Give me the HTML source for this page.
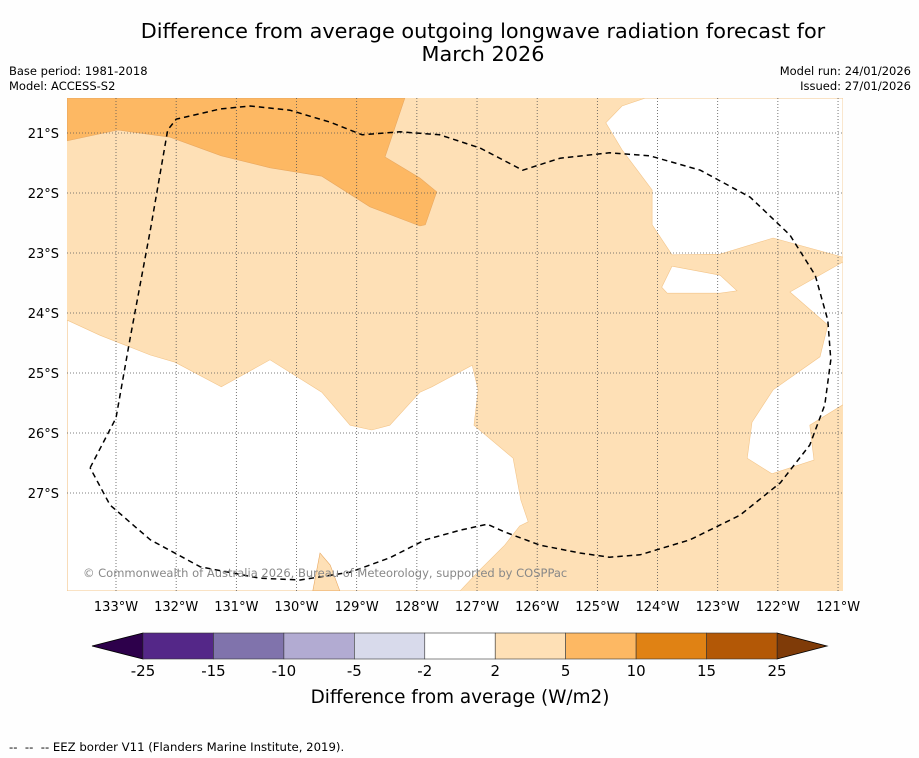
<!DOCTYPE html>
<html><head><meta charset="utf-8"><style>
body{margin:0;background:#fff;font-family:"DejaVu Sans","Liberation Sans",sans-serif;}
svg{display:block}
</style></head><body>
<svg id="c" width="919" height="758">
<rect width="919" height="758" fill="#fefefe"/>
<text x="483" y="38" font-size="20.8" text-anchor="middle">Difference from average outgoing longwave radiation forecast for</text>
<text x="483" y="61" font-size="20.8" text-anchor="middle">March 2026</text>
<text x="9" y="75" font-size="11.5">Base period: 1981-2018</text>
<text x="9" y="90" font-size="11.5">Model: ACCESS-S2</text>
<text x="911" y="75" font-size="11.5" text-anchor="end">Model run: 24/01/2026</text>
<text x="911" y="90" font-size="11.5" text-anchor="end">Issued: 27/01/2026</text>
<defs><clipPath id="mc"><rect x="67" y="98" width="776" height="493"/></clipPath></defs>
<g id="map" clip-path="url(#mc)"></g>
<g id="axes"></g>
<g id="cbar"></g>
<text x="9" y="751" font-size="11.7">--&#160;&#160;--&#160;&#160;-- EEZ border V11 (Flanders Marine Institute, 2019).</text>
</svg>
<script>
const lonTicks=[-133,-132,-131,-130,-129,-128,-127,-126,-125,-124,-123,-122,-121];
const latTicks=[-21,-22,-23,-24,-25,-26,-27];
const darkOrange=[[-133.81,-20.42],[-128.2,-20.42],[-128.53,-21.4],[-127.95,-21.75],[-127.67,-21.98],[-127.86,-22.53],[-127.95,-22.55],[-128.78,-22.23],[-129.58,-21.72],[-130.44,-21.58],[-131.25,-21.38],[-132.1,-21.07],[-132.97,-20.95],[-133.81,-21.13]];
const whiteSW=[[-133.81,-24.12],[-133.27,-24.37],[-132.43,-24.7],[-132.02,-24.82],[-131.25,-25.23],[-130.44,-24.78],[-129.58,-25.32],[-129.11,-25.87],[-128.75,-25.95],[-128.45,-25.87],[-127.95,-25.32],[-127.75,-25.23],[-127.08,-24.87],[-126.98,-25.28],[-127.05,-25.87],[-126.4,-26.42],[-126.27,-27.12],[-126.15,-27.48],[-126.29,-27.55],[-126.54,-27.87],[-126.95,-28.28],[-127.28,-28.63],[-133.81,-28.63]];
const spike=[[-129.73,-28.63],[-129.61,-28.0],[-129.44,-28.2],[-129.28,-28.63]];
const whiteNE=[[-124.21,-20.42],[-124.59,-20.55],[-124.86,-20.83],[-124.59,-21.28],[-124.09,-21.95],[-124.09,-22.53],[-123.76,-23.03],[-122.96,-23.02],[-122.08,-22.75],[-120.92,-23.07],[-120.92,-20.42]];
const whiteE=[[-120.92,-23.15],[-121.8,-23.65],[-121.17,-24.2],[-121.3,-24.73],[-122.08,-25.28],[-122.43,-25.82],[-122.51,-26.42],[-122.1,-26.68],[-121.4,-26.45],[-121.47,-25.87],[-120.92,-25.53]];
const island=[[-123.76,-23.22],[-122.96,-23.37],[-122.68,-23.63],[-122.96,-23.67],[-123.84,-23.67],[-123.93,-23.57]];
const eez=[[-133.43,-26.58],[-133,-25.75],[-132.77,-24.45],[-132.43,-22.62],[-132.14,-20.95],[-132.0,-20.77],[-131.27,-20.6],[-130.77,-20.55],[-130.11,-20.62],[-129.44,-20.82],[-128.91,-21.03],[-128.28,-20.98],[-127.62,-21.03],[-126.95,-21.25],[-126.24,-21.62],[-125.62,-21.42],[-124.8,-21.33],[-124.13,-21.38],[-123.29,-21.62],[-122.46,-22.07],[-121.8,-22.7],[-121.38,-23.37],[-121.17,-24.12],[-121.12,-24.78],[-121.22,-25.53],[-121.47,-26.2],[-121.96,-26.83],[-122.63,-27.37],[-123.46,-27.78],[-124.29,-28.03],[-124.8,-28.07],[-125.29,-28.0],[-125.95,-27.87],[-126.54,-27.65],[-126.83,-27.52],[-127.28,-27.62],[-127.86,-27.78],[-128.45,-28.08],[-129.11,-28.32],[-129.94,-28.45],[-130.61,-28.42],[-131.6,-28.23],[-132.43,-27.78],[-133.1,-27.2],[-133.43,-26.58]];
const cbLevels=[-25,-15,-10,-5,-2,2,5,10,15,25];
const cbColors=["#542788","#8073ac","#b2abd2","#d8daeb","#ffffff","#fee0b6","#fdb863","#e08214","#b35806"];
const NS="http://www.w3.org/2000/svg";
const X=lon=>116+(lon+133)*60.17, Y=lat=>133+(-21-lat)*60;
function mk(tag,attrs,parent){const e=document.createElementNS(NS,tag);for(const k in attrs)e.setAttribute(k,attrs[k]);parent.appendChild(e);return e;}
const pts=a=>a.map(p=>X(p[0]).toFixed(1)+","+Y(p[1]).toFixed(1)).join(" ");
const map=document.getElementById('map'),axes=document.getElementById('axes'),cb=document.getElementById('cbar');
let r=mk('rect',{x:67,y:98,width:776,height:493,fill:'#fee0b6'},map);


[[whiteSW,'#ffffff','neutral-area-southwest'],[spike,'#fee0b6','anomaly-spike'],[whiteNE,'#ffffff','neutral-area-northeast'],[whiteE,'#ffffff','neutral-area-east'],[island,'#ffffff','neutral-patch'],[darkOrange,'#fdb863','anomaly-5-10-area']].forEach(([d,c,n])=>{
 const p=mk('polygon',{points:pts(d),fill:c,stroke:c==='#ffffff'?'#f3c58a':'#e9a860','stroke-width':0.6},map);
 
 
});
lonTicks.forEach(l=>{
 const g=mk('line',{x1:X(l),x2:X(l),y1:98,y2:591,stroke:'#555','stroke-width':0.8,'stroke-dasharray':'1,2'},map);
 
 
 const t=mk('text',{x:X(l),y:611,'font-size':13,'text-anchor':'middle'},axes);
 t.textContent=Math.abs(l)+"°W";
 
 
});
latTicks.forEach(l=>{
 const g=mk('line',{x1:67,x2:843,y1:Y(l),y2:Y(l),stroke:'#555','stroke-width':0.8,'stroke-dasharray':'1,2'},map);
 
 
 const t=mk('text',{x:59,y:Y(l)+5,'font-size':13,'text-anchor':'end'},axes);
 t.textContent=Math.abs(l)+"°S";
 
 
});
const e=mk('polyline',{points:pts(eez),fill:'none',stroke:'#000','stroke-width':1.5,'stroke-dasharray':'5.5,4'},map);


const cr=mk('text',{x:83,y:577,'font-size':11.5,fill:'#888'},map);
cr.textContent="© Commonwealth of Australia 2026, Bureau of Meteorology, supported by COSPPac";


const cx0=143,cx1=777,cy=633,ch=26;
const CX=v=>cx0+cbLevels.indexOf(v)*(cx1-cx0)/(cbLevels.length-1);
let a=mk('polygon',{points:`92,646 ${cx0},${cy} ${cx0},${cy+ch}`,fill:'#2d004b',stroke:'#000','stroke-width':0.8},cb);


a=mk('polygon',{points:`827,646 ${cx1},${cy} ${cx1},${cy+ch}`,fill:'#7f3b08',stroke:'#000','stroke-width':0.8},cb);


cbColors.forEach((c,i)=>{
 const x0=CX(cbLevels[i]),x1=CX(cbLevels[i+1]);
 const b=mk('rect',{x:x0,y:cy,width:x1-x0,height:ch,fill:c,stroke:'#333','stroke-width':0.6},cb);
 
 
});
cbLevels.forEach(v=>{
 const t=mk('text',{x:CX(v),y:676,'font-size':15,'text-anchor':'middle'},cb);
 t.textContent=v;
 
 
});
const lt=mk('text',{x:460,y:703,'font-size':18.4,'text-anchor':'middle'},cb);
lt.textContent="Difference from average (W/m2)";


</script>
</body></html>
